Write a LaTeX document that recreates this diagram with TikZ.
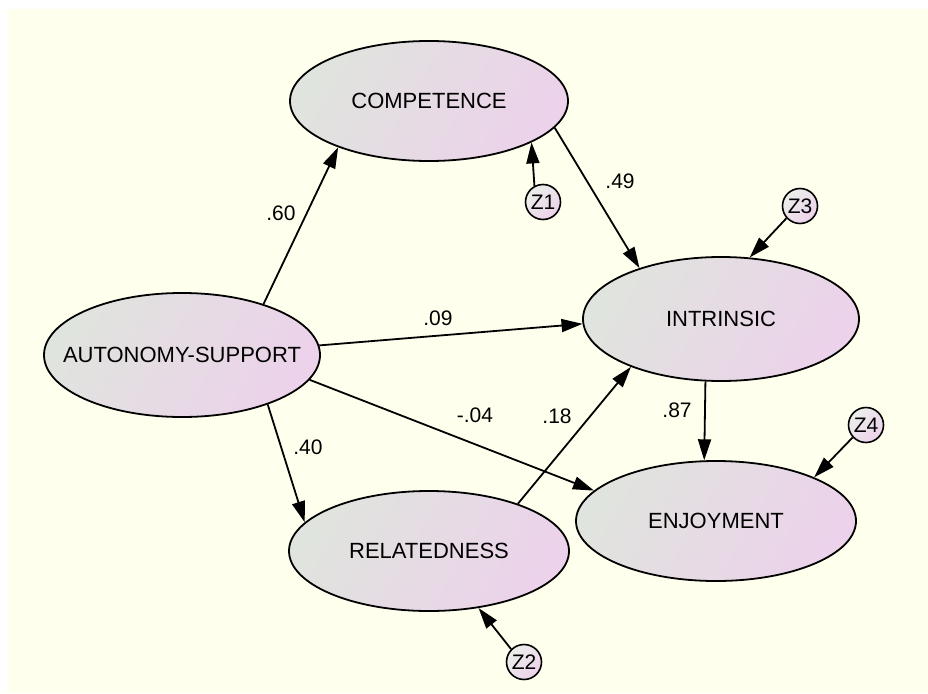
\documentclass[tikz,border=0pt]{standalone}
\usepackage{fontspec}
\setmainfont{Liberation Sans}
\usetikzlibrary{shapes.geometric,arrows.meta}
\definecolor{bgcream}{RGB}{255,255,238}
\definecolor{shgray}{RGB}{224,228,222}
\definecolor{shpink}{RGB}{236,210,234}
\begin{document}
\begin{tikzpicture}[x=1pt,y=-1pt,
  lat/.style={ellipse, draw, line width=1.8pt, inner xsep=-80pt, inner ysep=-10pt,
    left color=shgray, right color=shpink, shading angle=60,
    font=\fontsize{22}{26}\selectfont},
  err/.style={circle, draw, line width=1.6pt, minimum size=35pt, inner sep=0pt,
    left color=shgray!60!white, right color=shpink, shading angle=45,
    font=\fontsize{21}{25}\selectfont},
  conn/.style={line width=1.8pt, -{Triangle[length=21pt,width=13pt]}},
  lbl/.style={font=\fontsize{21}{25}\selectfont, inner sep=0pt}]
\useasboundingbox (0,0) rectangle (928,693);
\fill[bgcream] (7,9) rectangle (928,693);

\node[lat, minimum width=278pt, minimum height=120pt] (comp) at (429,101) {COMPETENCE};
\node[lat, minimum width=276pt, minimum height=124pt] (aut) at (182,355) {AUTONOMY-SUPPORT};
\node[lat, minimum width=276pt, minimum height=124pt] (int) at (721,319) {INTRINSIC};
\node[lat, minimum width=280pt, minimum height=120pt] (enj) at (716,521) {ENJOYMENT};
\node[lat, minimum width=280pt, minimum height=120pt] (rel) at (429,551) {RELATEDNESS};

\node[err] (z1) at (543,202) {Z1};
\node[err] (z2) at (524,662) {Z2};
\node[err] (z3) at (800,206) {Z3};
\node[err] (z4) at (866,425) {Z4};

\draw[conn] (aut.32) -- (comp.207);
\draw[conn] (aut.4) -- (int.182);
\draw[conn] (aut.-11) -- (enj.166);
\draw[conn] (aut.-30) -- (rel.167);
\draw[conn] (rel.28) -- (int.208);
\draw[conn] (comp.-12) -- (int.148);
\draw[conn] (int.-104) -- (enj.101);
\draw[conn] (z1.118) -- (comp.-22);
\draw[conn] (z2.135) -- (rel.-49);
\draw[conn] (z3.-138) -- (int.65);
\draw[conn] (z4.-137) -- (enj.24);

\node[lbl] (l60) at (281,213) {.60};
\node[lbl] (l09) at (438,318) {.09};
\node[lbl] (l04) at (475,415) {-.04};
\node[lbl] (l18) at (557,416) {.18};
\node[lbl] (l40) at (308,447) {.40};
\node[lbl] (l49) at (620,181) {.49};
\node[lbl] (l87) at (677,410) {.87};
\end{tikzpicture}
\end{document}
